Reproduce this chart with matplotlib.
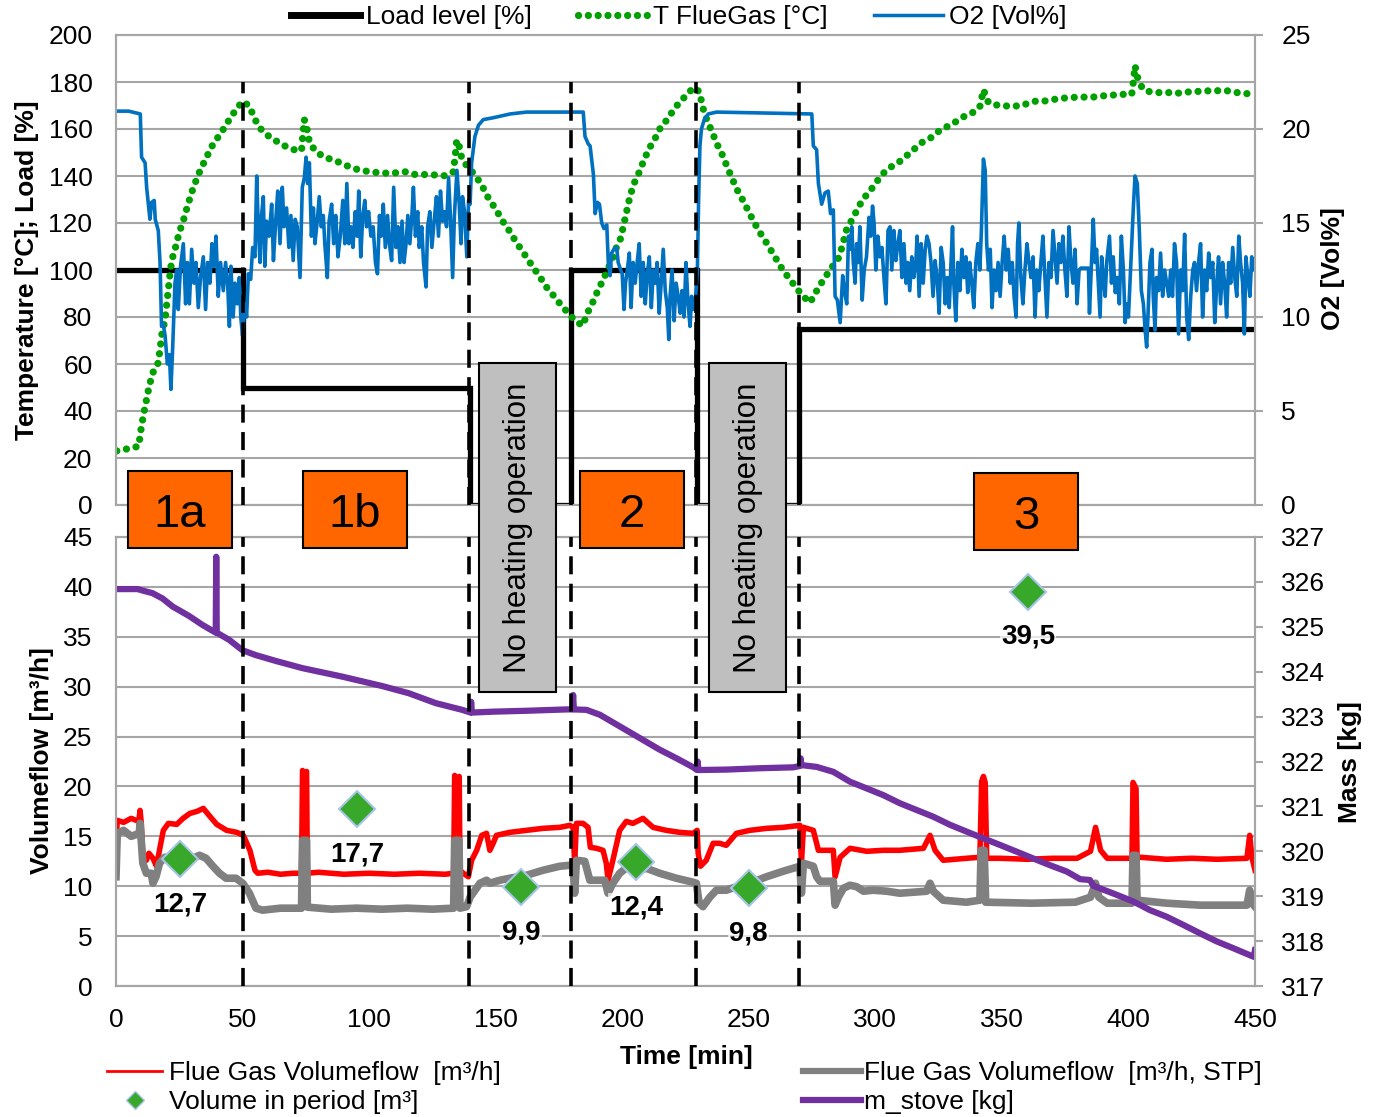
import matplotlib.pyplot as plt
from matplotlib.patches import Rectangle
from matplotlib.lines import Line2D

plt.rcParams['font.family'] = ['Liberation Sans', 'DejaVu Sans']
plt.rcParams['font.size'] = 18

# ---------------- data ----------------
load_t = [0, 50, 50, 140, 140, 179.6, 179.6, 229.5, 229.5, 270, 270, 450]
load_v = [100, 100, 50, 50, 0, 0, 100, 100, 0, 0, 75, 75]

tfg_t = [0.3, 5, 9, 9.7, 10.8, 11.9, 13, 14.4, 16.5, 17.4, 18, 19.4, 20, 21.3, 22, 23.6, 25,
         26.6, 28.2, 29.9, 31.6, 33.5, 35.8, 37.8, 40.4, 43.1, 45.3, 47.7, 50, 52.7, 54.5,
         56.5, 59.1, 62.2, 65, 68.4, 71, 73.3, 73.8, 74.4, 75.3, 76.4, 78.6, 81.9, 85.2, 88.5,
         91.1, 96.1, 101.7, 108.3, 114.2, 117.5, 124, 130, 133.3, 134, 134.6, 135.5, 136.6,
         138.5, 141.8, 144.5, 146.4, 149.1, 151.4, 153.7, 155.9, 158, 160.3, 162.7, 165.2,
         167.8, 170.4, 173.2, 175.8, 178.7, 181.4, 184.4, 186.2, 188.3, 190.2, 192.3, 194.3,
         196.2, 197.8, 199.4, 200.7, 203.1, 204.7, 206.8, 208.6, 210.7, 213, 215.3, 217.8,
         220.2, 222.8, 225.5, 228.1, 230.5, 231.8, 233.4, 235.4, 237.3, 239.6, 241.3, 243.3,
         245.2, 247.5, 249.8, 251.8, 254.2, 256.8, 259.1, 261.3, 263.6, 266.3, 268.9, 271.6,
         274.2, 276.2, 278.4, 280.8, 283.2, 285.4, 287.1, 288.4, 290.7, 292.9, 295, 297.9,
         300.3, 302.5, 304.7, 307.4, 310.1, 313.4, 315.7, 318.3, 321.6, 324.9, 327.8, 330.4,
         333.2, 336.1, 339.4, 341.4, 342.7, 344.7, 348, 350.9, 357.2, 360.5, 363.1, 366.4,
         369.7, 373, 375.6, 381.1, 385.5, 388.8, 393.4, 398.7, 401.3, 402, 402.6, 403.6, 405.6,
         408.3, 411.6, 415.8, 419.1, 421.7, 425.4, 428.9, 432.2, 435.5, 438.8, 442.1, 445.4,
         448.3, 450]
tfg_v = [23, 24, 25, 31, 38, 44, 50, 56, 60, 66, 72, 79, 85, 98, 104, 110, 116,
         121, 127, 133, 138, 143, 148, 152.5, 156.7, 161, 165, 168.6, 171.8, 169.8, 165,
         160.8, 157.9, 155.6, 153.8, 151.8, 151, 150.8, 157.4, 164, 161, 154.6, 150.8, 148.2,
         147, 145.7, 144.4, 142.5, 141.6, 141.1, 141.8, 140.7, 140.6, 140.1, 141.8, 148.5,
         155.3, 153.2, 147.5, 144.5, 140.4, 136.2, 131.9, 127.4, 123.4, 119.1, 116, 111.9,
         108.5, 104.5, 100.6, 96.5, 92.2, 88.7, 85.1, 81.6, 78.4, 76.3, 81.6, 86.1, 90.8, 95.5,
         100.3, 105, 109.9, 113.5, 119.9, 131.5, 136.9, 141.8, 146.8, 151.8, 156, 161, 164,
         168, 171.6, 174.5, 177.6, 175.9, 169.2, 164, 159, 153.9, 148.9, 144.3, 139.3, 134.5,
         130, 125.2, 120.9, 116.3, 111.9, 107.8, 103.8, 99.7, 96, 92.2, 88.7, 86.1, 90, 94,
         97.9, 101.7, 105, 110.6, 116.6, 121.3, 125.8, 130, 133.6, 137.2, 140.4, 142.8, 144.7,
         146.5, 149.6, 151.8, 154.2, 156, 158.9, 160.7, 162.1, 164.1, 166, 167.4, 169.8, 176.7,
         171.2, 170.2, 169.8, 169.8, 171, 171.8, 171.8, 172.5, 172.9, 173.3, 173.6, 173.5, 174,
         174.4, 174.8, 174.8, 180.6, 186.9, 182, 177, 175.9, 175.5, 175.5, 175.2, 175.5, 176,
         176, 176.3, 176.3, 176.3, 175.6, 175.2, 174.9, 174.8]

o2_t = [0, 5, 8, 9.6, 10.1, 11.5, 12.1, 13.4, 14.1, 15.1, 15.5, 16.7, 17.4, 18.0, 18.7, 19.4,
        20.3, 21.1, 21.7, 22.4, 23.3, 24.0, 24.6, 25.5, 26.6, 27.5, 28.2, 29.0, 29.9, 30.8,
        31.6, 32.5, 33.4, 34.5, 35.4, 36.2, 37.1, 37.9, 38.7, 39.5, 40.4, 41.3, 42.4, 43.3,
        44.1, 44.8, 45.4, 46.3, 47.0, 47.9, 48.7, 49.3, 50.0, 50.9, 51.6, 52.3, 53.2, 54.0,
        54.9, 55.6, 56.2, 56.9, 57.5, 58.2, 58.8, 59.5, 60.5, 61.5, 62.2, 63.1, 63.9, 64.8,
        65.7, 66.4, 67.4, 68.3, 69.1, 70.0, 70.8, 71.6, 72.7, 73.6, 74.4, 75.1, 75.7, 76.4,
        77.2, 78.0, 78.6, 79.5, 80.3, 81.1, 81.9, 82.5, 83.5, 84.2, 85.2, 86.0, 86.8, 87.7,
        88.6, 89.6, 90.4, 91.2, 92.0, 92.8, 93.6, 94.5, 95.3, 95.9, 96.7, 97.5, 98.3, 99.0,
        99.8, 100.7, 101.6, 102.5, 103.3, 104.1, 104.8, 105.6, 106.4, 107.3, 108.0, 108.9,
        109.7, 110.6, 111.4, 112.2, 113.0, 113.8, 114.6, 115.3, 116.1, 116.9, 117.5, 118.3,
        119.2, 119.8, 120.8, 121.5, 122.5, 123.1, 124.0, 124.8, 125.7, 126.6, 127.4, 128.2,
        129.0, 129.8, 130.6, 131.4, 132.2, 133.0, 133.7, 134.7, 135.6, 136.3, 136.9, 137.7,
        138.6, 139.3, 139.9, 140.5, 141.8, 143.2, 145.1, 149.1, 155.7, 162.2, 184.6, 185.3,
        186.6, 187.3, 188.6, 189.3, 190.2, 191.0, 191.9, 192.8, 193.9, 194.5, 195.2, 195.8,
        196.7, 197.8, 198.4, 199.4, 200.0, 200.7, 201.3, 202.0, 202.8, 203.5, 204.3, 205.1,
        205.9, 206.7, 207.5, 208.3, 209.1, 209.9, 210.7, 211.5, 212.3, 213.1, 213.8, 214.6,
        215.4, 216.2, 217.0, 217.8, 218.4, 218.9, 219.7, 220.5, 221.3, 222.1, 222.9, 223.6,
        224.4, 225.2, 226.0, 226.8, 227.4, 228.1, 228.9, 229.7, 230.2, 230.7, 231.3, 232.4,
        234.0, 237.3, 274.9, 275.5, 276.8, 277.5, 278.8, 280.1, 281.4, 282.3, 283.4,
        284.1, 285.0, 286.1, 287.1, 287.8, 288.7, 289.4, 290.0, 290.7, 291.3, 292.0, 292.6,
        293.3, 293.9, 294.8, 295.6, 296.5, 297.5, 298.2, 298.9, 299.5, 300.2, 301.0, 301.8,
        302.6, 303.4, 304.2, 305.0, 305.8, 306.5, 307.3, 308.1, 308.9, 309.7, 310.5, 311.3,
        312.1, 312.8, 313.6, 314.4, 315.2, 316.0, 316.5, 317.3, 318.1, 318.9, 319.7, 320.4,
        321.2, 322.0, 322.8, 323.6, 324.4, 325.2, 326.0, 326.8, 327.6, 328.4, 329.2, 329.9,
        330.5, 331.0, 331.8, 332.6, 333.4, 334.2, 335.0, 335.8, 336.5, 337.3, 338.1, 338.9,
        339.7, 340.5, 341.3, 341.9, 342.7, 343.4, 344.0, 344.7, 345.4, 346.1, 346.9, 347.7,
        348.5, 349.3, 350.1, 350.9, 351.7, 352.5, 353.3, 354.1, 354.8, 355.6, 356.2, 356.7,
        357.5, 358.3, 359.1, 359.9, 360.7, 361.5, 362.3, 363.1, 363.8, 364.6, 365.4, 366.2,
        367.0, 367.8, 368.6, 369.4, 370.2, 371.0, 371.8, 372.5, 373.3, 374.1, 374.9, 375.7,
        376.5, 377.3, 378.1, 378.9, 379.7, 380.5, 381.2, 384.2, 384.6, 386.1, 386.8, 387.4,
        388.1, 388.8, 389.4, 390.1, 390.8, 391.4, 392.5, 393.3, 394.0, 394.8, 395.6, 396.4,
        397.2, 398.0, 398.7, 399.3, 400.0, 400.6, 401.3, 402.0, 402.6, 403.5, 404.3, 405.1,
        405.9, 406.6, 407.2, 407.9, 408.5, 409.3, 409.8, 410.5, 411.1, 411.9, 412.7, 413.5,
        414.3, 415.1, 415.9, 416.7, 417.4, 418.2, 419.0, 419.8, 420.6, 421.4, 422.2, 423.0,
        423.8, 424.6, 425.4, 426.1, 426.9, 427.7, 428.5, 429.3, 430.1, 430.9, 431.7, 432.5,
        433.3, 434.1, 434.9, 435.6, 436.4, 437.2, 438.0, 438.8, 439.6, 440.4, 441.2, 442.0,
        442.8, 443.6, 444.3, 445.1, 445.8, 446.4, 447.2, 448.0, 448.7, 449.3, 450.0]
o2_v = [20.95, 20.95, 20.85, 20.8, 18.5, 18.2, 16.9, 15.2, 16.1, 16.2, 15.2, 14.6, 12.9, 9.5,
        9.6, 9.0, 7.5, 8.0, 6.15, 8.4, 11.8, 12.5, 10.4, 12.7, 13.9, 10.7, 12.9, 10.7, 13.6,
        11.8, 12.9, 10.5, 12.1, 13.2, 10.4, 12.9, 11.8, 13.9, 12.7, 14.3, 11.1, 12.9, 11.4,
        12.9, 11.8, 9.5, 12.7, 10.0, 11.8, 10.7, 12.1, 10.0, 9.0, 10.7, 10.0, 12.3, 12.0, 13.7,
        13.2, 17.5, 14.8, 12.9, 15.4, 16.4, 12.7, 15.1, 14.3, 16.0, 13.0, 15.1, 16.7, 13.9,
        16.9, 14.8, 15.8, 13.7, 15.4, 13.0, 15.2, 14.8, 12.1, 16.9, 17.4, 18.5, 17.1, 18.2,
        14.3, 15.8, 13.9, 15.1, 16.4, 14.8, 15.4, 13.9, 12.1, 15.1, 16.0, 13.9, 15.4, 13.2,
        14.3, 16.2, 13.9, 17.1, 13.9, 14.8, 13.7, 15.6, 14.3, 16.7, 13.2, 15.4, 16.2, 14.8,
        15.6, 14.3, 14.8, 12.9, 12.3, 15.4, 14.3, 16.0, 13.7, 15.4, 13.9, 13.0,
        16.9, 13.7, 14.8, 12.9, 15.1, 12.9, 13.9, 15.4, 13.9, 15.4, 16.9, 14.3,
        15.6, 13.7, 14.8, 12.9, 11.6, 14.8, 15.6, 13.7, 15.1, 16.4, 14.3, 16.7,
        15.1, 15.6, 14.8, 17.4, 15.1, 12.1, 15.4, 17.8, 16.0, 13.9, 16.4, 15.6,
        13.2, 16.2, 16.0, 18.2, 19.6, 20.2, 20.5, 20.6, 20.8, 20.9, 20.9, 19.6,
        19.2, 19.1, 17.6, 15.5, 16.1, 16.0, 15.0, 14.7, 14.9, 12.9, 12.2, 13.4,
        13.6, 13.7, 12.9, 12.5, 12.3, 10.4, 11.8, 12.5, 13.4, 10.5, 12.9, 11.8,
        12.9, 13.9, 11.1, 12.9, 10.7, 12.3, 13.2, 10.5, 12.5, 11.8, 12.9, 10.2,
        11.8, 13.6, 11.4, 10.5, 8.8, 11.1, 12.5, 9.8, 11.8, 11.1, 10.2, 11.4,
        10.0, 12.9, 10.7, 9.5, 11.1, 10.4, 10.9, 12.5, 16.4, 19.1, 20.0, 20.5,
        20.8, 20.9, 20.8, 19.1, 18.9, 17.1, 16.0, 16.6, 16.7, 15.5, 15.7,
        11.1, 10.9, 9.7, 12.2, 11.4, 10.7, 14.3, 13.6, 14.8, 12.9, 11.8, 13.9,
        12.9, 14.8, 10.9, 12.5, 13.2, 15.3, 14.3, 15.9, 15.0, 12.5, 14.3, 13.2,
        13.7, 12.1, 10.7, 14.6, 14.8, 12.5, 14.6, 13.0, 13.9, 14.6, 12.1, 13.9,
        11.8, 12.9, 11.4, 13.2, 12.1, 12.9, 14.3, 11.1, 13.9, 11.8, 13.6, 14.3,
        13.9, 12.9, 11.1, 13.0, 12.1, 10.2, 13.7, 12.9, 10.7, 12.1, 10.5, 12.9,
        14.8, 11.8, 9.8, 12.9, 11.4, 13.6, 12.1, 13.2, 11.3, 12.9, 11.8, 10.5,
        12.9, 13.9, 12.5, 14.6, 18.4, 17.8, 13.9, 12.5, 13.6, 10.5, 12.5, 11.4,
        12.9, 11.1, 12.9, 14.3, 12.5, 13.6, 11.8, 12.9, 11.1, 10.0, 13.9, 15.0,
        12.1, 10.7, 12.5, 13.9, 12.9, 12.1, 13.2, 10.0, 12.5, 11.4, 12.9, 14.3,
        12.1, 10.0, 12.9, 12.1, 14.6, 13.2, 11.8, 13.9, 12.9, 14.3, 12.5, 11.1,
        14.8, 12.9, 11.8, 13.6, 10.7, 12.5, 12.6, 12.6, 10.2, 15.2, 12.9, 13.6,
        11.8, 10.0, 13.2, 12.1, 11.1, 12.9, 14.3, 11.8, 13.2, 11.3, 12.1, 10.7,
        14.3, 12.5, 9.7, 10.7, 10.0, 11.8, 13.9, 16.0, 17.5, 17.1, 14.6, 11.4,
        10.7, 9.3, 8.4, 10.7, 12.9, 13.6, 11.1, 9.3, 12.1, 11.4, 13.4, 11.1,
        12.5, 11.8, 11.1, 12.5, 11.1, 13.9, 12.9, 9.1, 12.5, 11.4, 14.4, 10.0,
        8.8, 11.1, 12.5, 12.9, 11.4, 12.9, 13.9, 10.0, 12.5, 11.4, 13.4, 12.1,
        12.9, 9.7, 11.8, 13.2, 10.7, 12.9, 11.8, 10.0, 12.9, 11.8, 13.7, 12.1,
        11.1, 14.3, 12.9, 11.8, 9.1, 13.2, 12.1, 11.1, 13.2, 12.5, 12.9]

red_t = [0, 0.5, 3, 6, 9, 9.5, 10.0, 10.6, 12.0, 13.0, 14.6, 16.0, 17.4, 18.7, 20.7, 24.0,
         26.5, 29.2, 32.0, 34.5, 37.1, 39.8, 43.7, 47.7, 50.3, 52.9, 54.9, 56.0, 60, 65, 70,
         73.3, 73.7, 74.5, 75.3, 75.6, 80, 90, 100, 110, 120, 130, 133.4, 133.8, 134.8,
         135.6, 135.9, 137.2, 139.2, 140.5, 142.5, 144.5, 146.4, 147.7, 149.0, 150.3, 155.6,
         162.2, 168.7, 175.3, 179.3, 180.6, 181.2, 181.9, 184.5, 186.5, 187.4, 189.8, 192.4,
         193.7, 194.4, 196.3, 199.0, 201.6, 204.2, 208.2, 212.2, 217.4, 222.7, 228.0, 229.6,
         230.0, 230.9, 233.2, 235.9, 238.5, 241.1, 245.1, 250.4, 257.0, 263.6, 270.2, 270.8,
         271.6, 275.5, 277.5, 283.4, 284.1, 286.1, 290.0, 296.6, 303.2, 309.7, 319.0, 321.6,
         323.6, 326.8, 336.0, 341.3, 342.0, 342.7, 343.4, 344.0, 349.3, 360, 370, 379.7,
         385.0, 387.0, 389.0, 391.6, 401.4, 401.8, 403.0, 403.4, 404.7, 415, 425, 435, 446.8,
         447.9, 448.8, 450]
red_v = [14.3, 16.6, 16.4, 16.8, 16.5, 17.6, 16.3, 13.0, 12.6, 13.3, 12.8, 12.0, 13.9, 15.6,
         16.3, 16.2, 16.8, 17.3, 17.5, 17.8, 17.0, 16.2, 15.6, 15.4, 15.1, 13.6, 11.6, 11.3,
         11.4, 11.2, 11.3, 11.3, 21.6, 21.0, 21.5, 11.3, 11.4, 11.2, 11.3, 11.2, 11.3, 11.2,
         11.3, 21.1, 20.5, 21.0, 11.6, 11.3, 10.95, 12.6, 13.6, 15.1, 15.3, 13.6, 14.3, 15.1,
         15.4, 15.6, 15.8, 15.9, 16.1, 15.9, 12.3, 16.3, 16.3, 15.9, 13.9, 13.8, 13.6, 12.3,
         10.6, 12.6, 15.6, 16.5, 16.3, 16.8, 15.9, 15.6, 15.4, 15.3, 15.6, 13.3, 12.0, 12.6,
         14.3, 14.3, 14.1, 15.3, 15.6, 15.8, 15.9, 16.1, 12.3, 15.9, 15.6, 13.6, 13.6, 10.95,
         12.9, 13.8, 13.5, 13.6, 13.6, 13.8, 15.1, 13.6, 12.6, 12.8, 12.9, 20.5, 21.0, 20.4,
         12.8, 12.8, 12.7, 12.8, 12.8, 13.5, 15.9, 13.6, 12.8, 12.8, 20.4, 19.8, 12.9, 12.9,
         12.7, 12.8, 12.7, 12.8, 15.1, 12.9, 11.6]

stp_t = [0, 0.5, 3, 6, 9.2, 9.5, 10.6, 12.0, 13.9, 14.6, 15.8, 17.2, 19.2, 22.4, 25.1, 27.7,
         30.4, 33.0, 35.6, 38.3, 40.9, 43.5, 47.4, 50.1, 52.7, 55.3, 57.9, 65, 73.3, 73.7,
         75.3, 75.6, 85, 95, 105, 115, 125, 133.4, 133.8, 135.5, 135.9, 138.5, 139.9, 143.8,
         146.4, 147.7, 149.0, 151.7, 155.6, 162.2, 168.7, 175.3, 179.3, 180.6, 181.2, 181.9,
         185.2, 187.2, 193.1, 194.4, 196.3, 199.0, 202.9, 206.9, 209.5, 214.8, 221.4, 228.0,
         229.3, 230.4, 231.9, 234.6, 237.2, 241.1, 245.1, 250.4, 257.0, 263.6, 270.2, 270.8,
         271.6, 275.5, 276.8, 278.1, 283.4, 284.1, 285.4, 287.4, 290.0, 292.6, 295.3, 299.2,
         304.5, 309.7, 320.3, 321.6, 322.9, 326.8, 336.0, 341.3, 341.8, 343.0, 343.6, 361.8,
         379.0, 385.0, 387.0, 388.3, 391.6, 401.4, 401.8, 403.0, 403.4, 415.2, 428.4, 446.8,
         447.9, 448.8, 450]
stp_v = [10.95, 15.3, 15.6, 15.0, 15.3, 16.3, 12.3, 11.3, 11.3, 10.3, 10.95, 12.3, 12.9,
         12.9, 12.3, 13.3, 12.8, 13.1, 12.8, 12.0, 11.3, 10.8, 10.8, 10.3, 9.3, 7.8, 7.6, 7.8,
         7.8, 14.6, 14.6, 7.9, 7.7, 7.8, 7.7, 7.8, 7.7, 7.8, 14.6, 14.6, 7.8, 7.95, 8.9, 10.3,
         10.6, 10.3, 10.4, 10.6, 10.8, 11.1, 11.6, 12.0, 12.1, 12.0, 9.3, 12.6, 12.5, 10.6,
         10.6, 9.3, 10.3, 11.3, 12.1, 11.6, 11.8, 11.3, 10.8, 10.4, 10.3, 8.3, 7.95, 8.9, 9.6,
         9.6, 9.95, 10.3, 10.95, 11.5, 12.0, 9.3, 12.3, 12.0, 10.95, 10.5, 10.5, 8.1, 8.9, 9.8,
         10.1, 9.95, 9.5, 9.6, 9.5, 9.3, 9.5, 10.3, 9.5, 8.6, 8.4, 8.6, 13.6, 13.6, 8.4, 8.3,
         8.4, 8.9, 10.3, 8.9, 8.3, 8.3, 13.1, 13.1, 8.6, 8.3, 8.1, 8.1, 9.6, 8.3, 7.95]

mass_t = [0, 8.5, 11, 14.4, 18.4, 22.4, 28.9, 34.2, 39.4, 39.6, 39.8, 44.7, 49.9, 55.2, 63.1,
          73.6, 89.4, 105.2, 115.7, 126.3, 136.8, 140.1, 140.3, 140.6, 149.0, 162.2, 178.0,
          180.3, 180.6, 180.9, 185.9, 191.2, 199.1, 207.0, 214.9, 221.5, 228.1, 229.5, 229.8,
          230.1, 241.3, 254.4, 267.6, 270.2, 270.5, 270.8, 276.8, 283.4, 290.0, 296.6, 303.2,
          309.7, 316.3, 322.9, 329.5, 336.0, 342.6, 349.3, 355.9, 362.4, 369.0, 375.6, 380.9,
          384.8, 386.2, 395.4, 402.0, 408.5, 415.2, 421.7, 428.4, 435.0, 441.5, 449.5, 450]
mass_v = [325.84, 325.84, 325.80, 325.75, 325.63, 325.45, 325.24, 325.04, 324.87, 326.56,
          324.87, 324.71, 324.48, 324.37, 324.24, 324.08, 323.89, 323.68, 323.52, 323.30,
          323.15, 323.09, 323.33, 323.09, 323.11, 323.13, 323.16, 323.16, 323.48, 323.16,
          323.15, 323.04, 322.78, 322.52, 322.26, 322.07, 321.87, 321.81, 322.0, 321.81,
          321.82, 321.85, 321.87, 321.90, 322.07, 321.92, 321.88, 321.77, 321.55, 321.40,
          321.25, 321.07, 320.92, 320.77, 320.59, 320.44, 320.29, 320.14, 319.99, 319.84,
          319.69, 319.55, 319.38, 319.36, 319.23, 319.03, 318.88, 318.69, 318.54, 318.36,
          318.17, 317.99, 317.84, 317.65, 317.80]

vol_t = [25.3, 95.2, 160, 205.5, 250, 360.3]
vol_v = [12.7, 17.7, 9.9, 12.4, 9.8, 39.5]
vol_lbl = ['12,7', '17,7', '9,9', '12,4', '9,8', '39,5']

period_bounds = [50, 139.6, 179.6, 229, 269.7]
phase_names = ['1a', '1b', '2', '3']
phase_x = [4.7, 73.9, 183.3, 339.0]
pause_x = [143.4, 234.3]

# ---------------- styling ----------------
grid_c = '#A6A6A6'
green = '#00A000'
blue = '#0070C0'
purple = '#7030A0'
dots = (0, (0.01, 1.35))
dash = (0, (5, 2.6))

fig = plt.figure(figsize=(13.73, 11.17), dpi=100)
ax1 = fig.add_axes([116/1373, 1-505/1117, 1139/1373, 470/1117])
ax2 = fig.add_axes([116/1373, 1-986/1117, 1139/1373, 449/1117])
ax1r = ax1.twinx()
ax2r = ax2.twinx()

for a in (ax1, ax1r, ax2, ax2r):
    a.set_xlim(0, 450)
    for s in a.spines.values():
        s.set_color(grid_c)
        s.set_linewidth(1.5)
    a.set_axisbelow(True)

# top panel
ax1.set_ylim(0, 200)
ax1.set_yticks(range(0, 201, 20))
ax1.grid(axis='y', color=grid_c, lw=1.5)
ax1.tick_params(axis='x', length=0, labelbottom=False)
ax1.tick_params(axis='y', length=0, pad=17, labelsize=19)
ax1r.set_ylim(0, 25)
ax1r.set_yticks(range(0, 26, 5))
ax1r.tick_params(axis='y', length=6, width=1.5, color=grid_c, pad=13, labelsize=19)

ax1.plot(load_t, load_v, color='black', lw=3.8, solid_joinstyle='miter')
ax1.plot(tfg_t, tfg_v, color=green, lw=5.2, ls=dots, dash_capstyle='round')
ax1r.plot(o2_t, o2_v, color=blue, lw=2.6)
for b in period_bounds:
    ax1r.axvline(b, ymax=0.9, color='black', lw=2.6, ls=dash, zorder=5)

# bottom panel
ax2.set_ylim(0, 45)
ax2.set_yticks(range(0, 46, 5))
ax2.grid(axis='y', color=grid_c, lw=1.5)
ax2.set_xticks(range(0, 451, 50))
ax2.tick_params(axis='x', length=0, pad=16, labelsize=19)
ax2.tick_params(axis='y', length=0, pad=17, labelsize=19)
ax2r.set_ylim(317, 327)
ax2r.set_yticks(range(317, 328))
ax2r.tick_params(axis='y', length=6, width=1.5, color=grid_c, pad=13, labelsize=19)

ax2.plot(red_t, red_v, color='red', lw=4)
ax2.plot(stp_t, stp_v, color='#808080', lw=5.5)
ax2.plot(vol_t, vol_v, 'D', ms=18, mfc='#38A82A', mec='#A9C4EB', mew=1.5, ls='none', zorder=4)
for t, v, s in zip(vol_t, vol_v, vol_lbl):
    ax2.text(t, v - 4.5, s, ha='center', va='center', fontsize=20, fontweight='bold',
             bbox=dict(facecolor='white', alpha=0.7, edgecolor='none', pad=1), zorder=4)
ax2r.plot(mass_t, mass_v, color=purple, lw=4.5)
for b in period_bounds:
    ax2r.axvline(b, color='black', lw=2.6, ls=dash, zorder=5)

# phase boxes spanning both panels
for x0, name in zip(phase_x, phase_names):
    y0 = -19.1 if name == '3' else -18.3
    fig.add_artist(Rectangle((x0, y0), 41.1, 32.8, transform=ax1.transData,
                             fc='#FF6600', ec='black', lw=1.5, zorder=4))
    fig.text(x0 + 20.55, y0 + 14.0, name, transform=ax1.transData, ha='center',
             va='center', fontsize=34, zorder=6)
for x0 in pause_x:
    fig.add_artist(Rectangle((x0, -79.6), 30.6, 140, transform=ax1.transData,
                             fc='#BFBFBF', ec='black', lw=1.5, zorder=4))
    fig.text(x0 + 15.3, -9.8, 'No heating operation', transform=ax1.transData,
             rotation=90, ha='center', va='center', fontsize=22.5, zorder=6)

# axis titles
fig.text(27/1373, 1-270/1117, 'Temperature [°C]; Load [%]', rotation=90, ha='center',
         va='center', fontsize=19, fontweight='bold')
fig.text(1333/1373, 1-269/1117, 'O2 [Vol%]', rotation=90, ha='center', va='center',
         fontsize=19, fontweight='bold')
fig.text(42/1373, 1-761/1117, 'Volumeflow [m³/h]', rotation=90, ha='center', va='center',
         fontsize=19, fontweight='bold')
fig.text(1350/1373, 1-762/1117, 'Mass [kg]', rotation=90, ha='center', va='center',
         fontsize=19, fontweight='bold')
fig.text(686/1373, 1-1057/1117, 'Time [min]', ha='center', va='center', fontsize=19,
         fontweight='bold')

# legends
top_handles = [Line2D([], [], color='black', lw=5),
               Line2D([], [], color=green, lw=5.2, ls=dots, dash_capstyle='round'),
               Line2D([], [], color=blue, lw=2.5)]
fig.legend(top_handles, ['Load level [%]', 'T FlueGas [°C]', 'O2 [Vol%]'],
           loc='upper center', bbox_to_anchor=(679/1373, 1-4/1117), ncol=3, frameon=False,
           fontsize=19, handlelength=2.6, handletextpad=0.25, columnspacing=1.75,
           borderaxespad=0, borderpad=0.05)

left_handles = [Line2D([], [], color='red', lw=2),
                Line2D([], [], marker='D', ms=9, mfc='#38A82A', mec='#A9C4EB', ls='none')]
fig.legend(left_handles, ['Flue Gas Volumeflow  [m³/h]', 'Volume in period [m³]'],
           loc='upper left', bbox_to_anchor=(107/1373, 1-1061/1117), frameon=False,
           fontsize=19, handlelength=2.1, handletextpad=0.25, labelspacing=0.2,
           borderaxespad=0, borderpad=0)
right_handles = [Line2D([], [], color='#808080', lw=4.5),
                 Line2D([], [], color=purple, lw=4.5)]
fig.legend(right_handles, ['Flue Gas Volumeflow  [m³/h, STP]', 'm_stove [kg]'],
           loc='upper left', bbox_to_anchor=(803/1373, 1-1061/1117), frameon=False,
           fontsize=19, handlelength=2.2, handletextpad=0.1, labelspacing=0.2,
           borderaxespad=0, borderpad=0)

fig.savefig('out.png', dpi=100)
